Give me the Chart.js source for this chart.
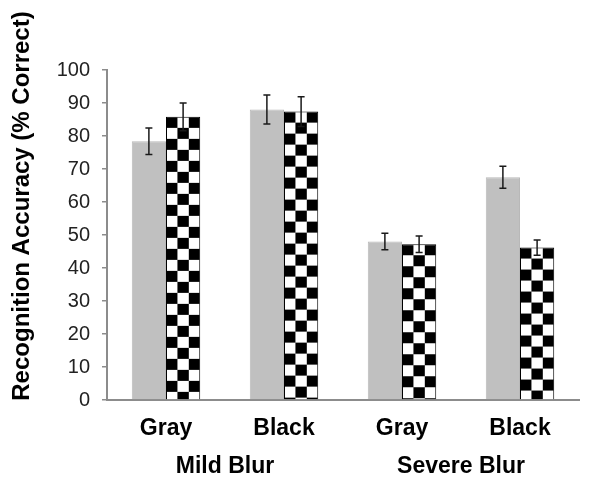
<!DOCTYPE html>
<html>
<head>
<meta charset="utf-8">
<script src="https://cdn.jsdelivr.net/npm/chart.js@4.4.1/dist/chart.umd.min.js"></script>
<style>
  html, body { margin: 0; padding: 0; background: #fff; }
  #wrap { width: 600px; height: 488px; }
</style>
</head>
<body>
<div id="wrap"><canvas id="chart" width="600" height="488"></canvas></div>
<script>
// data
const categories = ['Gray', 'Black', 'Gray', 'Black'];
const groupLabels = ['Mild Blur', 'Severe Blur'];
const solidValues = [78.4, 88.0, 48.0, 67.5];
const solidErrors = [4.0, 4.4, 2.5, 3.3];
const checkValues = [85.8, 87.4, 47.2, 46.2];
const checkErrors = [4.2, 4.5, 2.5, 2.3];
const yTitle = 'Recognition Accuracy (% Correct)';

const FONT = '"Liberation Sans", Arial, sans-serif';

// checkerboard tile, 11px squares, black in the top-left
function makeChecker() {
    const c = document.createElement('canvas');
    c.width = 22; c.height = 22;
    const g = c.getContext('2d');
    g.fillStyle = '#fff';
    g.fillRect(0, 0, 22, 22);
    g.fillStyle = '#000';
    g.fillRect(0, 0, 11, 11);
    g.fillRect(11, 11, 11, 11);
    return document.getElementById('chart').getContext('2d').createPattern(c, 'repeat');
}

// line the pattern up with each bar's top-left corner
const patternAlign = {
    id: 'patternAlign',
    beforeDatasetsDraw(chart) {
        const meta = chart.getDatasetMeta(1);
        meta.data.forEach(bar => {
            const p = bar.options.backgroundColor;
            if (p && p.setTransform) {
                const left = bar.x - bar.width / 2;
                p.setTransform(new DOMMatrix().translate(left, bar.y).scale(bar.width / 33, 1));
            }
        });
    }
};

// error bars + group labels + y title
const extras = {
    id: 'extras',
    afterDatasetsDraw(chart) {
        const ctx = chart.ctx;
        const y = chart.scales.y;
        const errs = [solidErrors, checkErrors];
        ctx.save();
        ctx.strokeStyle = '#1a1a1a';
        ctx.lineWidth = 1.5;
        [0, 1].forEach(di => {
            const meta = chart.getDatasetMeta(di);
            const vals = chart.data.datasets[di].data;
            meta.data.forEach((bar, i) => {
                const top = y.getPixelForValue(vals[i] + errs[di][i]);
                const bot = y.getPixelForValue(vals[i] - errs[di][i]);
                ctx.beginPath();
                ctx.moveTo(bar.x, top); ctx.lineTo(bar.x, bot);
                ctx.moveTo(bar.x - 3.5, top); ctx.lineTo(bar.x + 3.5, top);
                ctx.moveTo(bar.x - 3.5, bot); ctx.lineTo(bar.x + 3.5, bot);
                ctx.stroke();
            });
        });
        ctx.restore();
    },
    afterDraw(chart) {
        const ctx = chart.ctx;
        const x = chart.scales.x;
        ctx.save();
        ctx.fillStyle = '#000';
        ctx.font = 'bold 23px ' + FONT;
        ctx.textAlign = 'center';
        ctx.textBaseline = 'middle';
        groupLabels.forEach((g, i) => {
            const cx = (x.getPixelForValue(i * 2) + x.getPixelForValue(i * 2 + 1)) / 2;
            ctx.fillText(g, cx, 467);
        });
        ctx.translate(22, 206);
        ctx.rotate(-Math.PI / 2);
        ctx.font = 'bold 24px ' + FONT;
        ctx.fillText(yTitle, 0, 0);
        ctx.restore();
    }
};

new Chart(document.getElementById('chart'), {
    type: 'bar',
    data: {
        labels: categories,
        datasets: [{
            data: solidValues,
            backgroundColor: '#c0c0c0',
            borderColor: '#b8b8b8',
            borderWidth: 1,
            categoryPercentage: 0.58,
            barPercentage: 1
        }, {
            data: checkValues,
            backgroundColor: () => makeChecker(),
            borderColor: '#000',
            borderWidth: 1,
            categoryPercentage: 0.58,
            barPercentage: 1
        }]
    },
    options: {
        responsive: false,
        animation: false,
        events: [],
        layout: { padding: { top: 70, right: 21, bottom: 0, left: 0 } },
        plugins: { legend: { display: false }, tooltip: { enabled: false } },
        scales: {
            x: {
                grid: { display: false, drawTicks: false },
                border: { display: true, color: '#8c8c8c', width: 2 },
                ticks: { color: '#000', font: { family: FONT, size: 23, weight: 'bold' }, padding: 15 },
                afterFit(s) { s.height = 88; }
            },
            y: {
                min: 0, max: 100,
                ticks: { stepSize: 10, color: '#222', font: { family: FONT, size: 20 }, padding: 12 },
                grid: { drawOnChartArea: false, drawTicks: true, tickLength: 5, color: '#8c8c8c', lineWidth: 1.5 },
                border: { display: true, color: '#8c8c8c', width: 2 },
                afterFit(s) { s.width = 107; }
            }
        }
    },
    plugins: [patternAlign, extras]
});
</script>
</body>
</html>
